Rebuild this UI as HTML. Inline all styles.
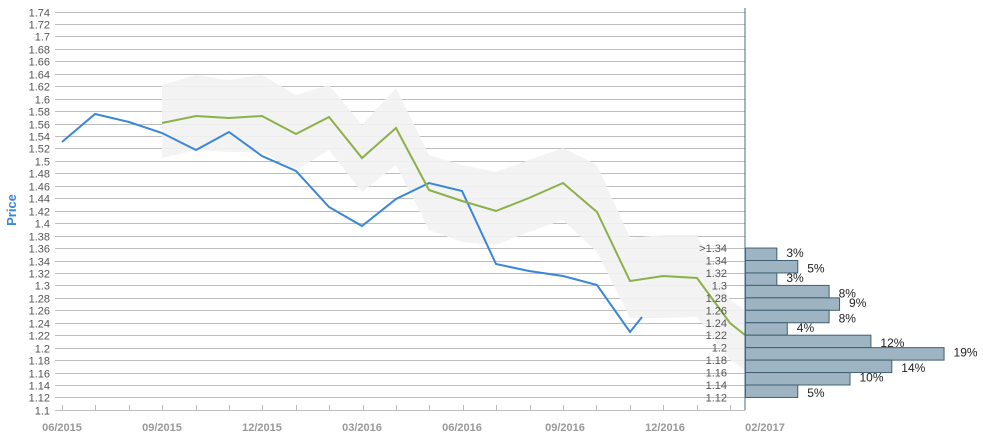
<!DOCTYPE html>
<html><head><meta charset="utf-8"><style>
body{margin:0;background:#fff;}
svg{font-family:"Liberation Sans",sans-serif;}
</style></head><body>
<svg width="983" height="438" xmlns="http://www.w3.org/2000/svg">
<g id="grid" stroke="#bdbdbd" stroke-width="1"></g>
<g id="yl" font-size="11" fill="#555" text-anchor="end"></g>
<polygon fill="#f2f2f2" opacity="0.9" points="162,85 196,75 229,80 262,75 296,95 329,85 362,125 396,88 429,155 462,165 496,172 529,160 563,148 597,165 630,238 663,235 697,235 730,300 745,310 745,370 730,360 697,317 663,318 630,318 597,252 563,220 529,232 496,245 462,242 429,230 396,165 362,192 329,150 296,170 262,152 229,152 196,150 162,158"/>
<polyline fill="none" stroke="#3a86d9" stroke-width="2" points="62,142 95,114 129,122 162,133 196,150 229,132 262,156 296,171 329,207 362,226 396,199 429,183 462,191 496,264 529,271 563,276 597,285 630,332 642,317"/>
<polyline fill="none" stroke="#8cb04a" stroke-width="2" points="162,123 196,116 229,118 262,116 296,134 329,117 362,158 396,128 429,190 462,201 496,211 529,198 563,183 597,212 630,281 663,276 697,278 730,323 745,335"/>
<g id="bars" fill="#9fb4c2" stroke="#3f5f73" stroke-width="1"></g>
<g id="bl" font-size="12" fill="#222"></g>
<g id="rl" font-size="11" fill="#555" text-anchor="end"></g>
<line x1="745" y1="8" x2="745" y2="410" stroke="#3f6f8a" stroke-width="1"/>
<g id="xt" stroke="#bbb"></g>
<g font-size="11" fill="#999" font-weight="bold" text-anchor="middle">
<text x="62" y="431">06/2015</text><text x="162" y="431">09/2015</text><text x="262" y="431">12/2015</text><text x="362" y="431">03/2016</text><text x="462" y="431">06/2016</text><text x="565" y="431">09/2016</text><text x="665" y="431">12/2016</text><text x="765" y="431">02/2017</text>
</g>
<text transform="translate(16,210) rotate(-90)" font-size="13" font-weight="bold" fill="#3a86d9" text-anchor="middle">Price</text>
<script>
var ns="http://www.w3.org/2000/svg";
function y(v){return 11.5+(1.74-v)/0.02*12.45;}
function el(p,t,a,txt){var e=document.createElementNS(ns,t);for(var k in a)e.setAttribute(k,a[k]);if(txt!=null)e.textContent=txt;document.getElementById(p).appendChild(e);}
for(var i=0;i<=32;i++){var v=1.74-i*0.02,yy=Math.round(y(v))+0.5;
 el("grid","line",{x1:55,x2:745,y1:yy,y2:yy});
 el("yl","text",{x:50,y:yy+4},String(+v.toFixed(2)));}
var pc=[3,5,3,8,9,8,4,12,19,14,10,5];
for(var i=0;i<12;i++){var t=y(1.36-i*0.02),b=y(1.34-i*0.02),w=pc[i]*10.45;
 el("bars","rect",{x:745.5,y:t,width:w,height:b-t});
 el("bl","text",{x:745+w+10,y:t+(i%2?12:9)},pc[i]+"%");}
var rl=[">1.34","1.34","1.32","1.3","1.28","1.26","1.24","1.22","1.2","1.18","1.16","1.14","1.12"];
for(var i=0;i<13;i++){el("rl","text",{x:727,y:y(1.36-i*0.02)+4},rl[i]);}
for(var i=0;i<22;i++){var x=Math.round(62+i*33.4)+0.5;if(x<745)el("xt","line",{x1:x,x2:x,y1:405,y2:411});}
</script>
</svg>
</body></html>
